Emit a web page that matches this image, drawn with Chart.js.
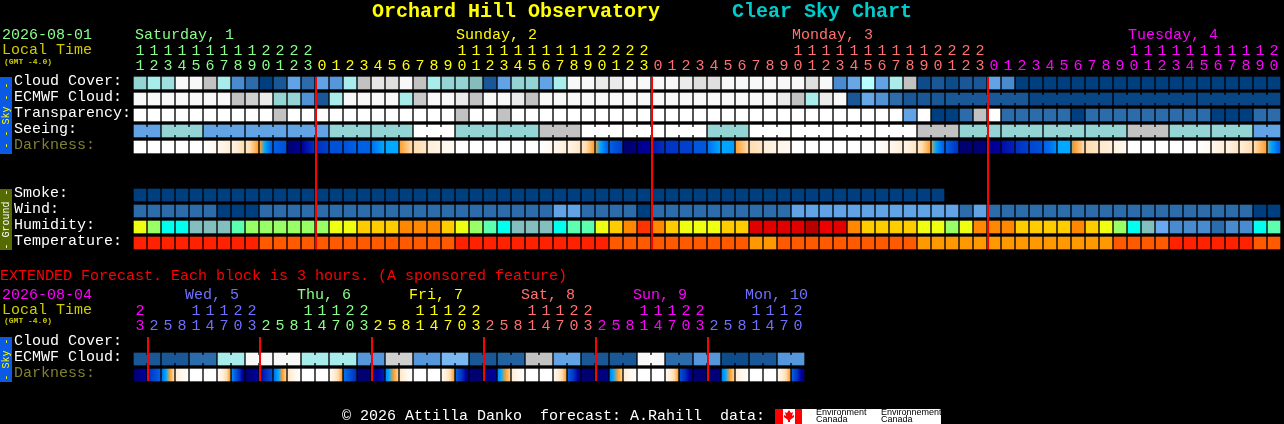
<!DOCTYPE html>
<html><head><meta charset="utf-8">
<style>html,body{margin:0;padding:0;background:#000;width:1284px;height:424px;overflow:hidden}
canvas{position:absolute;left:0;display:block}</style>
<script src="https://cdn.jsdelivr.net/npm/chart.js@4/dist/chart.umd.js"></script>
</head><body>
<canvas id="main" width="1284" height="262" style="top:0"></canvas>
<canvas id="ext" width="1284" height="162" style="top:262px"></canvas>
<script>
const hourLabels=['11','12','13','14','15','16','17','18','19','20','21','22','23',
'0','1','2','3','4','5','6','7','8','9','10','11','12','13','14','15','16','17','18','19','20','21','22','23',
'0','1','2','3','4','5','6','7','8','9','10','11','12','13','14','15','16','17','18','19','20','21','22','23',
'0','1','2','3','4','5','6','7','8','9','10','11','12','13','14','15','16','17','18','19','20'];
const extHourLabels=['23','2','5','8','11','14','17','20','23','2','5','8','11','14','17','20','23','2','5','8','11','14','17','20','23','2','5','8','11','14','17','20','23','2','5','8','11','14','17','20','23','2','5','8','11','14','17','20'];
const mainRows=['Cloud Cover:','ECMWF Cloud:','Transparency:','Seeing:','Darkness:','','','Smoke:','Wind:','Humidity:','Temperature:'];
const extRows=['Cloud Cover:','ECMWF Cloud:','Darkness:'];
const cloudCover=[60,70,65,97,97,80,70,30,20,0,10,40,20,40,35,70,80,90,88,97,80,70,60,60,55,10,40,60,60,40,70,97,97,92,92,97,97,97,97,92,88,88,97,97,97,97,97,97,88,97,30,42,75,40,70,80,5,10,5,10,10,40,30,0,0,0,0,0,0,0,0,0,0,0,0,0,0,0,0,0,0,0];
const ecmwfCloud=[97,97,97,97,97,97,97,80,84,92,60,60,33,10,70,97,97,97,97,70,82,97,97,92,80,97,97,92,80,97,97,97,97,97,97,97,97,97,97,97,97,97,97,97,97,97,92,80,70,92,97,10,42,33,20,10,10,10,10,10,10,10,10,10,3,3,3,3,3,3,3,3,3,3,3,3,3,3,3,3,3,3];
const transparency=[100,100,100,100,100,100,100,100,100,100,80,100,100,100,100,100,100,100,100,100,100,100,100,80,100,100,80,100,100,100,100,100,100,100,100,100,100,100,100,100,100,100,100,100,100,100,100,100,100,100,100,100,100,100,100,40,100,0,0,20,80,100,20,20,20,20,20,0,20,20,20,20,20,20,20,20,20,0,0,0,20,20];
const seeing=[40,40,60,60,60,40,40,40,40,40,40,40,40,40,60,60,60,60,60,60,100,100,100,60,60,60,60,60,60,80,80,80,100,100,100,100,100,100,100,100,100,60,60,60,100,100,100,100,100,100,100,100,100,100,100,100,80,80,80,60,60,60,60,60,60,60,60,60,60,60,60,80,80,80,60,60,60,60,60,60,40,40];
const smoke=[0,0,0,0,0,0,0,0,0,0,0,0,0,0,0,0,0,0,0,0,0,0,0,0,0,0,0,0,0,0,0,0,0,0,0,0,0,0,0,0,0,0,0,0,0,0,0,0,0,0,0,0,0,0,0,0,0,0];
const wind=[20,20,20,20,20,20,0,0,0,20,20,20,20,20,20,20,20,20,20,20,20,20,20,20,20,20,20,20,20,20,40,40,20,20,20,20,0,20,20,20,20,20,20,20,20,20,20,40,40,40,40,40,40,40,40,40,40,40,40,20,40,20,20,20,20,20,20,20,20,20,20,20,20,20,20,20,20,20,20,20,0,0];
const humidity=[65,60,50,50,45,45,45,55,60,60,60,60,60,60,65,65,70,70,70,75,75,75,70,65,60,55,50,45,45,45,50,55,55,65,70,75,80,75,70,65,65,65,70,70,90,90,90,90,95,88,90,75,70,70,70,70,65,65,60,65,75,75,75,70,70,70,70,75,70,65,60,50,45,40,35,35,35,30,35,35,50,55];
const temperature=[20,20,20,20,20,20,20,20,20,15,15,15,15,15,15,15,15,15,15,15,15,15,15,20,20,20,20,20,20,20,20,20,20,20,15,15,15,15,15,15,15,15,15,15,10,10,15,15,15,15,15,15,15,15,15,15,10,10,10,10,10,10,10,10,10,10,10,10,10,10,15,15,15,15,20,20,20,20,20,20,15,15];
const darknessStart=[0,0,0,0,0,0,1,1.5,2.5,4,6.5,10,9,8,7,7,6.5,6,5,4,3,2,1,0,0,0,0,0,0,0,1,1.5,2.5,4.2,6.5,10,9.5,8.5,7.8,7.5,6.8,6,5,4,3,2,1.2,0,0,0,0,0,0,0,1,1.5,2.5,4.3,6.5,10,10,9.5,8.7,8,7.3,6.5,5,4.3,3,2.3,1.5,0,0,0,0,0,0,1,1.5,2,3,4.5];
const darknessEnd=[0,0,0,0,0,1,2,3,4,6.5,7,9.3,8,7.5,7,6.5,6.5,5,5,3,2.5,1.5,0.8,0,0,0,0,0,0,1,2,2.5,4,6.5,7.5,9.8,9,8,7.8,7.5,6.8,5,5.2,3,2.5,1.5,1,0,0,0,0,0,0,1,2,2.5,4,6.5,8,10,9.7,9,8.3,7.5,7,5.5,5,3,2.5,2,1,0,0,0,0,0,1,2,2.5,3,4,6.5];
const extEcmwf=[10,10,10,10,20,20,70,70,97,97,97,97,70,70,70,70,35,35,84,84,35,35,50,50,10,10,15,15,80,80,40,40,10,10,10,10,97,97,20,20,35,35,5,5,10,10,35,35];
const extDarkStart=[10,8,6,2,0,0,0.5,5.5,10,9,6,2.5,0,0,1,6,10,9.5,5.5,2.5,0,0,1,6.5,10,9.8,5.5,2,0,0,1,6.5,10,10,5.6,2,0,0,1,7,10,10,5.7,2,0,0,1,6.5];
const extDarkEnd=[9,6.5,3,0,0,0,4,9.5,9,7,3.2,0,0,0,4,8,10,8.5,3.2,0,0,0,4,9.5,10,9,3.2,0,0,0,4,9.5,10,9.5,3.2,0,0,0,4,9.5,10,9.7,3.2,0,0,0,4,9.8];
const mainMidnights=[13,37,61];
const extMidnights=[1,9,17,25,33,41];
const seeingBlocks=[2,3,3,3,3,3,3,3,3,3,3,3,3,3,3,3,3,3,3,3,3,3,3,3,3,3,3,3];
const ecmwfBlocks=[1,1,1,1,1,1,1,1,1,1,1,1,1,1,1,1,1,1,1,1,1,1,1,1,1,1,1,1,1,1,1,1,1,1,1,1,1,1,1,1,1,1,1,1,1,1,1,1,1,1,1,1,1,1,1,1,1,1,6,6,6,6];
const extBlocks=[2,2,2,2,2,2,2,2,2,2,2,2,2,2,2,2,2,2,2,2,2,2,2,2];

const skyStops=[[0,'#003f7f'],[10,'#1a5797'],[20,'#2c6cab'],[30,'#4a8bcf'],[40,'#62a3e6'],[50,'#7ab8f2'],[55,'#85bcbc'],[60,'#94d4d4'],[70,'#a8ecec'],[75,'#b8ffff'],[80,'#c2c2c2'],[90,'#e6e6e6'],[100,'#ffffff']];
const humidityStops=[[30,'#2c6cab'],[35,'#4a8bcf'],[40,'#6aa8f0'],[45,'#84bfbf'],[50,'#00ffee'],[55,'#5cffb0'],[60,'#99ff66'],[65,'#eeff11'],[70,'#ffcc00'],[75,'#ff8800'],[80,'#ff3300'],[88,'#ee0000'],[90,'#e00000'],[95,'#b80000']];
const tempStops=[[10,'#ff9900'],[15,'#ff5a00'],[20,'#ff2200']];
const darkStops=[[0,'#ffffff'],[1,'#fff8ee'],[2,'#ffeed8'],[3,'#ffddb0'],[4,'#ffa030'],[5,'#00a8ff'],[6,'#0070f0'],[7,'#0050d8'],[8,'#0030c0'],[9,'#0000a0'],[10,'#000070']];

function rgb(h){return [1,3,5].map(i=>parseInt(h.substr(i,2),16));}
function lookup(stops,v){
  if(v<=stops[0][0])return stops[0][1];
  for(let i=1;i<stops.length;i++){
    if(v<=stops[i][0]){
      const [a,ca]=stops[i-1],[b,cb]=stops[i],t=(v-a)/(b-a),x=rgb(ca),y=rgb(cb);
      return 'rgb('+x.map((c,k)=>Math.round(c+(y[k]-c)*t)).join(',')+')';
    }
  }
  return stops[stops.length-1][1];
}
const MONO='"Liberation Mono"';
const CELL=12,HALF=0.375;
function flat(values,stops,row,blocks){
  return {values,blocks,data:values.map(()=>[row-HALF,row+HALF]),barThickness:CELL,grouped:false,borderWidth:0,borderSkipped:false,
    backgroundColor:c=>c.dataIndex===undefined?'#000':lookup(stops,c.dataset.values[c.dataIndex])};
}
function dark(starts,ends,row){
  return {values:starts,ends,data:starts.map(()=>[row-HALF,row+HALF]),barThickness:CELL,grouped:false,borderWidth:0,borderSkipped:false,
    backgroundColor:c=>{
      if(c.dataIndex===undefined)return '#000';
      const a=starts[c.dataIndex],b=ends[c.dataIndex],px=c.chart.scales.x?c.chart.scales.x.getPixelForValue(c.dataIndex):NaN;
      if(!isFinite(px))return '#000';
      const g=c.chart.ctx.createLinearGradient(px-CELL/2,0,px+CELL/2,0);
      g.addColorStop(0,lookup(darkStops,a));
      if(a!==b){
        darkStops.forEach(s=>{const t=(s[0]-a)/(b-a);if(t>0&&t<1)g.addColorStop(t,s[1]);});
        g.addColorStop(1,lookup(darkStops,b));
      }else g.addColorStop(1,lookup(darkStops,a));
      return g;
    }};
}
function axisLabel(h){return h.length===2?[h[0],h[1]]:['',h];}
function txt(c,s,x,y,col,font,align){c.fillStyle=col;c.font=font;c.textAlign=align||'left';c.textBaseline='middle';c.fillText(s,x,y);}
function vtxt(c,s,x,y,col,font){c.save();c.translate(x,y);c.rotate(-Math.PI/2);c.fillStyle=col;c.font=font;c.textAlign='center';c.textBaseline='middle';c.fillText(s,0,0);c.restore();}

const decorate=(midnights,redFrom,redTo,strips,texts,extra)=>({
  id:'decorate',
  afterDatasetsDraw(chart){
    const c=chart.ctx,xs=chart.scales.x,ys=chart.scales.y;
    chart.data.datasets.forEach((d,di)=>{
      if(!d.blocks)return;
      const els=chart.getDatasetMeta(di).data;let i=0;
      d.blocks.forEach(n=>{
        for(let k=0;k<n-1&&i+k+1<els.length;k++){
          const a=els[i+k],b=els[i+k+1];
          c.fillStyle=lookup(skyStops,d.values[i+k]);
          c.fillRect(a.x+CELL/2,(a.y+a.base)/2-4,b.x-a.x-CELL,8);
        }
        i+=n;
      });
    });
    c.fillStyle='#ff0000';
    midnights.forEach(m=>{
      const x=xs.getPixelForValue(m)-CELL/2;
      const t=ys.getPixelForValue(redFrom-HALF),b=ys.getPixelForValue(redTo+HALF);
      c.fillRect(x-1,t,2,b-t);
    });
  },
  afterDraw(chart){
    const c=chart.ctx,ys=chart.scales.y;
    strips.forEach(s=>{
      const t=ys.getPixelForValue(s.from-HALF),b=ys.getPixelForValue(s.to+HALF)+1;
      c.fillStyle=s.bg;c.fillRect(0,t,12,b-t);
      vtxt(c,s.text,6,(t+b)/2,s.fg,'10px '+MONO);
    });
    texts.forEach(t=>txt(c,t[0],t[1],t[2],t[3],t[4]));
    if(extra)extra(c);
  }
});
const F15='15px '+MONO,FT='bold 20px '+MONO,FS='bold 8px '+MONO;
const GREEN='#88ff88',YEL='#ffff00',SALMON='#ff7070',MAG='#ff00ff',PERI='#7070ff',LOCAL='#cccc00';
const mainHourColor=i=>i<13?GREEN:i<37?YEL:i<61?SALMON:MAG;
const extHourColor=i=>i<1?MAG:[PERI,GREEN,YEL,SALMON,MAG,PERI][Math.floor((i-1)/8)];

function options(rows,hourColor,leftW,rightPad,bottomPad,topH,labelShift,tickPad){
  return {responsive:false,animation:false,events:[],devicePixelRatio:1,
    layout:{padding:{left:14,right:rightPad,top:0,bottom:bottomPad}},
    plugins:{legend:{display:false},tooltip:{enabled:false},title:{display:false}},
    scales:{
      x:{type:'category',position:'top',offset:true,grid:{display:false,drawTicks:false},border:{display:false},
        afterFit(s){s.height=topH;},
        ticks:{autoSkip:false,maxRotation:0,minRotation:0,padding:tickPad,color:c=>hourColor(c.index),font:{family:'Liberation Mono',size:15,lineHeight:0.97}}},
      y:{type:'linear',reverse:true,min:-0.5,max:rows.length-0.5,grid:{display:false,drawTicks:false},border:{display:false},
        afterFit(s){s.width=leftW;},
        afterBuildTicks(s){s.ticks=rows.map((_,i)=>({value:i}));},
        ticks:{autoSkip:false,crossAlign:'far',padding:0,labelOffset:labelShift,
          callback:v=>rows[v],
          color:c=>rows[c.index]==='Darkness:'?'#808030':'#ffffff',
          font:{family:'Liberation Mono',size:15}}}
    }};
}
new Chart(document.getElementById('main'),{type:'bar',
  data:{labels:hourLabels.map(axisLabel),datasets:[
    flat(cloudCover,skyStops,0),
    flat(ecmwfCloud,skyStops,1,ecmwfBlocks),
    flat(transparency,skyStops,2),
    flat(seeing,skyStops,3,seeingBlocks),
    dark(darknessStart,darknessEnd,4),
    flat(smoke,skyStops,7),
    flat(wind,skyStops,8),
    flat(humidity,humidityStops,9),
    flat(temperature,tempStops,10)
  ]},
  options:options(mainRows,mainHourColor,119,3,11,75,-2,2),
  plugins:[decorate(mainMidnights,0,10,
    [{from:0,to:4,bg:'#0a5ae6',fg:'#ffff00',text:'- - Sky - -'},{from:7,to:10,bg:'#556b00',fg:'#ffffff',text:'- Ground -'}],
    [['Orchard Hill Observatory',372,12,YEL,FT],['Clear Sky Chart',732,12,'#00cccc',FT],
     ['2026-08-01',2,35,GREEN,F15],['Local Time',2,50,LOCAL,F15],['(GMT -4.0)',4,62,LOCAL,FS],
     ['Saturday, 1',135,35,GREEN,F15],['Sunday, 2',456,35,YEL,F15],['Monday, 3',792,35,SALMON,F15],['Tuesday, 4',1128,35,MAG,F15]])]
});
new Chart(document.getElementById('ext'),{type:'bar',
  data:{labels:extHourLabels.map(axisLabel),datasets:[
    flat(extEcmwf,skyStops,1,extBlocks),
    dark(extDarkStart,extDarkEnd,2)
  ]},
  options:options(extRows,extHourColor,119,479,41,73,-2,2),
  plugins:[decorate(extMidnights,0,2,
    [{from:0,to:2,bg:'#0a5ae6',fg:'#ffff00',text:'- Sky -'}],
    [['EXTENDED Forecast. Each block is 3 hours. (A sponsored feature)',0,14,'#ff0000',F15],
     ['2026-08-04',2,33,MAG,F15],['Local Time',2,48,LOCAL,F15],['(GMT -4.0)',4,59,LOCAL,FS],
     ['Wed, 5',185,33,PERI,F15],['Thu, 6',297,33,GREEN,F15],['Fri, 7',409,33,YEL,F15],['Sat, 8',521,33,SALMON,F15],['Sun, 9',633,33,MAG,F15],['Mon, 10',745,33,PERI,F15],
     ['\u00a9 2026 Attilla Danko  forecast: A.Rahill  data:',342,154,'#ffffff',F15]],
    c=>{
      c.fillStyle='#ffffff';c.fillRect(775,147,166,15);
      c.fillStyle='#ff0000';c.fillRect(775,147,8,15);c.fillRect(795,147,7,15);
      c.beginPath();c.moveTo(789,148);c.lineTo(791,151);c.lineTo(793,150);c.lineTo(792,154);c.lineTo(794,153);c.lineTo(794,155);c.lineTo(790,158);c.lineTo(790,160);c.lineTo(788,160);c.lineTo(788,158);c.lineTo(784,155);c.lineTo(784,153);c.lineTo(786,154);c.lineTo(785,150);c.lineTo(787,151);c.closePath();c.fill();
      const f='9px "Liberation Sans"';
      txt(c,'Environment',816,151,'#000',f);txt(c,'Canada',816,158,'#000',f);
      txt(c,'Environnement',881,151,'#000',f);txt(c,'Canada',881,158,'#000',f);
    })]
});
</script></body></html>
